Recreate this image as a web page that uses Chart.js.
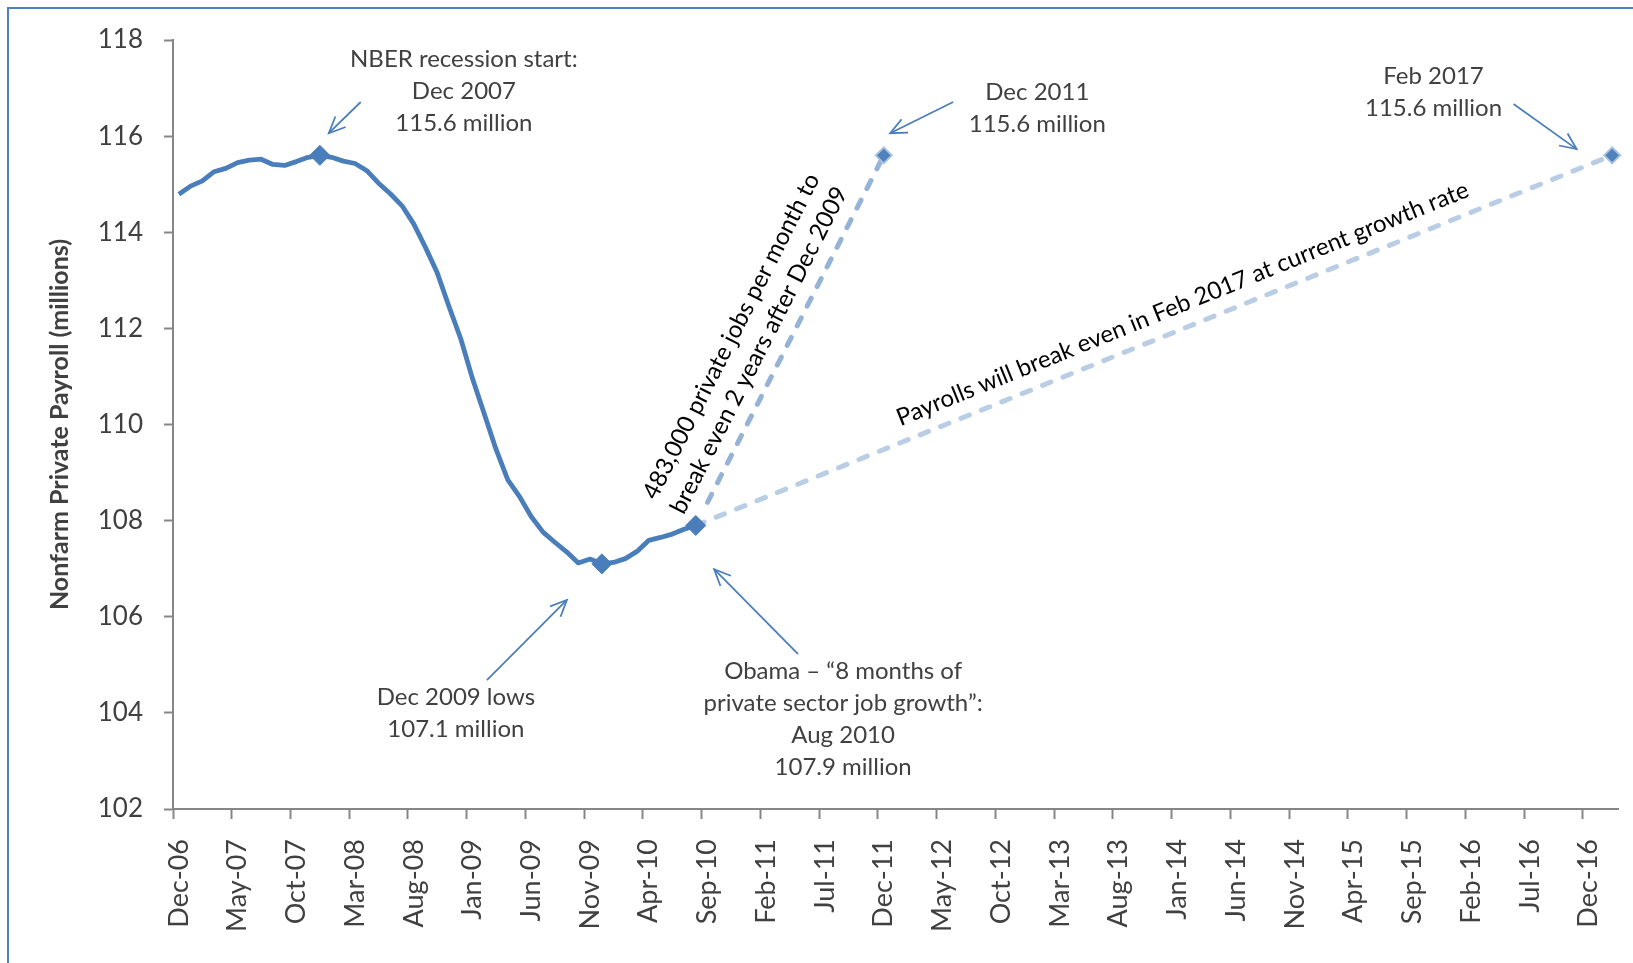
<!DOCTYPE html>
<html>
<head>
<meta charset="utf-8">
<title>Nonfarm Private Payroll</title>
<script src="https://cdn.jsdelivr.net/npm/chart.js@4.4.0/dist/chart.umd.min.js"></script>
<style>
  html, body { margin: 0; padding: 0; background: #fff; }
  #wrap { width: 1633px; height: 963px; }
</style>
</head>
<body>
<div id="wrap"><canvas id="payrollChart" width="1633" height="963"></canvas></div>
<script>
// Month categories, Dec 2006 through Feb 2017
const monthNames = ['Jan', 'Feb', 'Mar', 'Apr', 'May', 'Jun', 'Jul', 'Aug', 'Sep', 'Oct', 'Nov', 'Dec'];
const categories = [];
for (let k = 0; k < 123; k++) {
    const m = (11 + k) % 12;
    const yr = 6 + Math.floor((11 + k) / 12);
    categories.push(monthNames[m] + '-' + String(yr).padStart(2, '0'));
}

// Private payrolls (millions), Dec-06 .. Aug-10
const payroll = [
    114.79, 114.96, 115.07, 115.26, 115.33, 115.45, 115.50, 115.52, 115.41, 115.39,
    115.47, 115.56, 115.60, 115.56, 115.48, 115.43, 115.28, 115.02, 114.80, 114.55,
    114.17, 113.68, 113.15, 112.45, 111.78, 110.95, 110.22, 109.48, 108.85, 108.50,
    108.08, 107.76, 107.55, 107.35, 107.12, 107.20, 107.10, 107.13, 107.21, 107.36,
    107.59, 107.65, 107.72, 107.82, 107.90
];
const markerMonths = ['Dec-07', 'Dec-09', 'Aug-10'];

// 483k/month path back to the peak by Dec 2011
const fastMonths = ['Sep-10', 'Dec-11'];
const fastValues = [108.38, 115.6];

// current growth rate path, break even Feb 2017
const trendMonths = ['Aug-10', 'Feb-17'];
const trendValues = [107.9, 115.6];

const yMin = 102, yMax = 118, yStep = 2;
const labelEvery = 5;

function sparse(months, values) {
    const out = categories.map(() => null);
    months.forEach((m, i) => { out[categories.indexOf(m)] = values[i]; });
    return out;
}

const actualData = categories.map((_, i) => i < payroll.length ? payroll[i] : null);
const markerIdx = markerMonths.map(m => categories.indexOf(m));
const fastData = sparse(fastMonths, fastValues);
const trendData = sparse(trendMonths, trendValues);

const FONT = 'Lato, "Open Sans", sans-serif';
const GREY_TEXT = '#404040';
const AXIS_GREY = '#868686';
const ARROW_BLUE = '#4a7ebb';

// callouts, anchored in (category index, value) units
const notes = [
    { at: [24.26, 117.60], lines: ['NBER recession start:', 'Dec 2007', '115.6 million'],
      arrow: [[15.48, 116.71], [12.76, 116.06]] },
    { at: [73.07, 116.92], lines: ['Dec 2011', '115.6 million'],
      arrow: [[65.91, 116.71], [60.54, 116.06]] },
    { at: [106.8, 117.25], lines: ['Feb 2017', '115.6 million'],
      arrow: [[113.61, 116.67], [118.98, 115.73]] },
    { at: [23.58, 104.33], lines: ['Dec 2009 lows', '107.1 million'],
      arrow: [[26.22, 104.68], [33.03, 106.35]] },
    { at: [56.54, 104.87], lines: ['Obama \u2013 \u201C8 months of', 'private sector job growth\u201D:', 'Aug 2010', '107.9 million'],
      arrow: [[52.71, 105.22], [45.56, 106.99]] }
];

// labels running along the two projection lines
const slantNotes = [
    { at: [48.2, 111.69], path: [fastMonths, fastValues],
      lines: ['483,000 private jobs per month to', 'break even 2 years after Dec 2009'] },
    { at: [85.43, 112.51], path: [trendMonths, trendValues],
      lines: ['Payrolls will break even in Feb 2017 at current growth rate'] }
];

function drawArrow(ctx, x1, y1, x2, y2) {
    ctx.beginPath();
    ctx.moveTo(x1, y1);
    ctx.lineTo(x2, y2);
    ctx.stroke();
    const a = Math.atan2(y2 - y1, x2 - x1);
    const len = 18, spread = 0.42;
    ctx.beginPath();
    ctx.moveTo(x2 - len * Math.cos(a - spread), y2 - len * Math.sin(a - spread));
    ctx.lineTo(x2, y2);
    ctx.lineTo(x2 - len * Math.cos(a + spread), y2 - len * Math.sin(a + spread));
    ctx.stroke();
}

const calloutPlugin = {
    id: 'callouts',
    beforeDraw(chart) {
        const { ctx, width, height } = chart;
        ctx.save();
        ctx.fillStyle = '#fff';
        ctx.fillRect(0, 0, width, height);
        ctx.strokeStyle = '#4f81bd';
        ctx.lineWidth = 2;
        ctx.strokeRect(8, 8, width, height);
        ctx.restore();
    },
    afterDatasetsDraw(chart) {
        const { ctx } = chart;
        const xs = chart.scales.x, ys = chart.scales.y;
        const px = v => xs.getPixelForValue(v);
        const py = v => ys.getPixelForValue(v);
        ctx.save();

        ctx.font = '24px ' + FONT;
        ctx.fillStyle = GREY_TEXT;
        ctx.textAlign = 'center';
        ctx.textBaseline = 'middle';
        ctx.strokeStyle = ARROW_BLUE;
        ctx.lineWidth = 1.75;
        notes.forEach(n => {
            const x = px(n.at[0]), y = py(n.at[1]);
            n.lines.forEach((t, i) => ctx.fillText(t, x, y + i * 32));
            const [from, to] = n.arrow;
            drawArrow(ctx, px(from[0]), py(from[1]), px(to[0]), py(to[1]));
        });

        ctx.fillStyle = '#000';
        slantNotes.forEach(n => {
            const [months, values] = n.path;
            const x0 = px(categories.indexOf(months[0])), y0 = py(values[0]);
            const x1 = px(categories.indexOf(months[1])), y1 = py(values[1]);
            const angle = Math.atan2(y1 - y0, x1 - x0);
            ctx.save();
            ctx.translate(px(n.at[0]), py(n.at[1]));
            ctx.rotate(angle);
            const off = (n.lines.length - 1) * 31 / 2;
            n.lines.forEach((t, i) => ctx.fillText(t, 0, i * 31 - off));
            ctx.restore();
        });
        ctx.restore();
    }
};

const ctx = document.getElementById('payrollChart').getContext('2d');
new Chart(ctx, {
    type: 'line',
    data: {
        labels: categories,
        datasets: [
            {
                label: 'Private payroll',
                data: actualData,
                borderColor: '#4a7ebb',
                borderWidth: 4.8,
                borderJoinStyle: 'round',
                pointStyle: 'rectRot',
                pointRadius: c => markerIdx.includes(c.dataIndex) ? 10 : 0,
                pointBackgroundColor: '#4a7ebb',
                pointBorderColor: '#4a7ebb',
                pointBorderWidth: 1,
                tension: 0,
                order: 0
            },
            {
                label: 'Break even by Dec 2011',
                data: fastData,
                spanGaps: true,
                borderColor: '#95b3d7',
                borderWidth: 5,
                borderDash: [9, 13],
                borderCapStyle: 'round',
                pointStyle: 'rectRot',
                pointRadius: c => c.dataIndex === categories.indexOf(fastMonths[1]) ? 8 : 0,
                pointBackgroundColor: '#4f81bd',
                pointBorderColor: '#a9c1e0',
                pointBorderWidth: 2,
                order: 1
            },
            {
                label: 'Current growth rate',
                data: trendData,
                spanGaps: true,
                borderColor: '#b9cde5',
                borderWidth: 5,
                borderDash: [9, 13],
                borderCapStyle: 'round',
                pointStyle: 'rectRot',
                pointRadius: c => c.dataIndex === categories.indexOf(trendMonths[1]) ? 8 : 0,
                pointBackgroundColor: '#4f81bd',
                pointBorderColor: '#a9c1e0',
                pointBorderWidth: 2,
                order: 2
            }
        ]
    },
    options: {
        responsive: false,
        animation: false,
        layout: { padding: { top: 40, right: 15, bottom: 0, left: 0 } },
        plugins: {
            legend: { display: false },
            tooltip: { enabled: false }
        },
        scales: {
            x: {
                type: 'category',
                offset: true,
                border: { color: AXIS_GREY, width: 2 },
                grid: {
                    offset: true,
                    drawOnChartArea: false,
                    tickLength: 10,
                    tickWidth: 2,
                    tickColor: c => c.index % labelEvery === 0 ? AXIS_GREY : 'rgba(0,0,0,0)'
                },
                ticks: {
                    autoSkip: false,
                    maxRotation: 90,
                    minRotation: 90,
                    padding: 20,
                    color: GREY_TEXT,
                    font: { family: FONT, size: 27 },
                    callback: (v, i) => i % labelEvery === 0 ? categories[i] : ''
                },
                afterFit: s => {
                    s.height = 154;
                    s.paddingLeft = 0;
                    s.paddingRight = 0;
                }
            },
            y: {
                min: yMin,
                max: yMax,
                border: { color: AXIS_GREY, width: 2 },
                grid: {
                    drawOnChartArea: false,
                    tickLength: 9,
                    tickWidth: 2,
                    tickColor: AXIS_GREY
                },
                ticks: {
                    stepSize: yStep,
                    padding: 21,
                    color: GREY_TEXT,
                    font: { family: FONT, size: 26 }
                },
                title: {
                    display: true,
                    text: 'Nonfarm Private Payroll (millions)',
                    color: GREY_TEXT,
                    font: { family: FONT, size: 25, weight: 'bold' },
                    padding: { top: 45, bottom: 0 }
                },
                afterFit: s => { s.width = 173; }
            }
        }
    },
    plugins: [calloutPlugin]
});
</script>
</body>
</html>
